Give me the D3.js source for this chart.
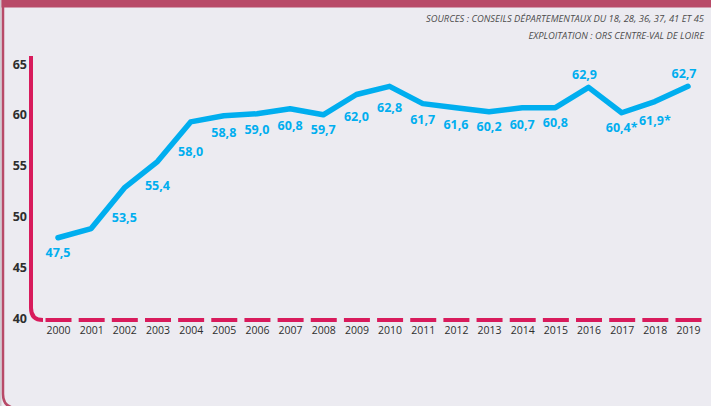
<!DOCTYPE html>
<html>
<head>
<meta charset="utf-8">
<script src="https://cdn.jsdelivr.net/npm/d3@7"></script>
<style>
  body { margin: 0; background: #ecebf1; }
  svg { display: block; }
  .tick text { font-family: "Liberation Sans Narrow", "Open Sans", sans-serif; }
</style>
</head>
<body>
<div id="chart"></div>
<script>
// data
var years = ["2000", "2001", "2002", "2003", "2004", "2005", "2006", "2007", "2008", "2009",
             "2010", "2011", "2012", "2013", "2014", "2015", "2016", "2017", "2018", "2019"];
// line as drawn
var values = [47.9, 48.8, 52.8, 55.4, 59.3, 59.9, 60.1, 60.6, 60.0, 62.0,
              62.8, 61.1, 60.7, 60.3, 60.7, 60.7, 62.7, 60.2, 61.3, 62.8];
// printed labels (2001 has none)
var labels = ["47,5", "", "53,5", "55,4", "58,0", "58,8", "59,0", "60,8", "59,7", "62,0",
              "62,8", "61,7", "61,6", "60,2", "60,7", "60,8", "62,9", "60,4*", "61,9*", "62,7"];
var yTicks = [40, 45, 50, 55, 60, 65];
var sources = ["SOURCES : CONSEILS DÉPARTEMENTAUX DU 18, 28, 36, 37, 41 ET 45",
               "EXPLOITATION : ORS CENTRE-VAL DE LOIRE"];

var width = 711, height = 406;
var pink = "#d81b5c", frame = "#b84a68", blue = "#00aeef";
var font = '"Liberation Sans Narrow", "Open Sans", sans-serif';

var svg = d3.select("#chart").append("svg")
  .attr("width", width)
  .attr("height", height);

// frame
svg.append("rect").attr("x", 0).attr("y", 0).attr("width", 1.5).attr("height", height).attr("fill", "#cfcbd0");
svg.append("path")
  .attr("d", "M3,0 V394 Q3,408 17,408")
  .attr("fill", "none")
  .attr("stroke", frame)
  .attr("stroke-width", 2.5);
svg.append("rect").attr("x", 1.5).attr("y", 0).attr("width", width).attr("height", 7.5).attr("fill", frame);

// sources
svg.append("g").selectAll("text")
  .data(sources)
  .enter().append("text")
  .attr("x", 704)
  .attr("y", (d, i) => 22 + i * 16.5)
  .attr("text-anchor", "end")
  .style("font-family", font)
  .style("font-style", "italic")
  .style("font-size", "9.4px")
  .style("fill", "#4d4d4d")
  .text(d => d);

var x = d3.scalePoint().domain(years).range([58, 688]);
var y = d3.scaleLinear().domain([40, 65]).range([318, 64]);

// y axis with rounded corner
svg.append("path")
  .attr("d", "M31,56 V" + (y(40) - 10) + " Q31," + (y(40) + 2) + " 43," + (y(40) + 2))
  .attr("fill", "none")
  .attr("stroke", pink)
  .attr("stroke-width", 4);

// dashed baseline, one dash per year
svg.append("g").selectAll("line")
  .data(years)
  .enter().append("line")
  .attr("x1", d => x(d) - 12.5)
  .attr("x2", d => x(d) + 13.5)
  .attr("y1", y(40) + 2)
  .attr("y2", y(40) + 2)
  .attr("stroke", pink)
  .attr("stroke-width", 4);

var yAxis = svg.append("g")
  .attr("transform", "translate(31,0)")
  .call(d3.axisLeft(y).tickValues(yTicks).tickSize(0).tickPadding(4).tickFormat(d3.format("d")));
yAxis.select(".domain").remove();
yAxis.selectAll("text")
  .style("font-size", "12.5px")
  .style("font-weight", "bold")
  .style("fill", "#2e2e2e");

var xAxis = svg.append("g")
  .attr("transform", "translate(0," + (y(40) + 2) + ")")
  .call(d3.axisBottom(x).tickSize(0).tickPadding(7));
xAxis.select(".domain").remove();
xAxis.selectAll("text")
  .style("font-size", "10.5px")
  .style("fill", "#2e2e2e");

// line
var line = d3.line()
  .x((d, i) => x(years[i]))
  .y(d => y(d));

svg.append("path")
  .datum(values)
  .attr("d", line)
  .attr("fill", "none")
  .attr("stroke", blue)
  .attr("stroke-width", 5.5)
  .attr("stroke-linejoin", "round")
  .attr("stroke-linecap", "round");

// y of the line at any x, to keep labels clear of it
function lineY(px) {
  var xs = years.map(d => x(d));
  if (px <= xs[0]) return y(values[0]);
  for (var i = 0; i < xs.length - 1; i++) {
    if (px <= xs[i + 1]) {
      var t = (px - xs[i]) / (xs[i + 1] - xs[i]);
      return y(values[i]) + t * (y(values[i + 1]) - y(values[i]));
    }
  }
  return y(values[values.length - 1]);
}

// value labels
var above = ["2016", "2019"];
svg.append("g").selectAll("text")
  .data(values)
  .enter().append("text")
  .attr("x", (d, i) => x(years[i]) - (above.indexOf(years[i]) >= 0 ? 4 : 0))
  .attr("y", function(d, i) {
    var px = x(years[i]);
    if (above.indexOf(years[i]) >= 0) return y(d) - 13;
    return Math.max(lineY(px - 12), lineY(px), lineY(px + 12)) + 15;
  })
  .attr("dy", "0.35em")
  .attr("text-anchor", "middle")
  .style("font-family", font)
  .style("font-weight", "bold")
  .style("font-size", "12.5px")
  .style("fill", blue)
  .text((d, i) => labels[i]);
</script>
</body>
</html>
